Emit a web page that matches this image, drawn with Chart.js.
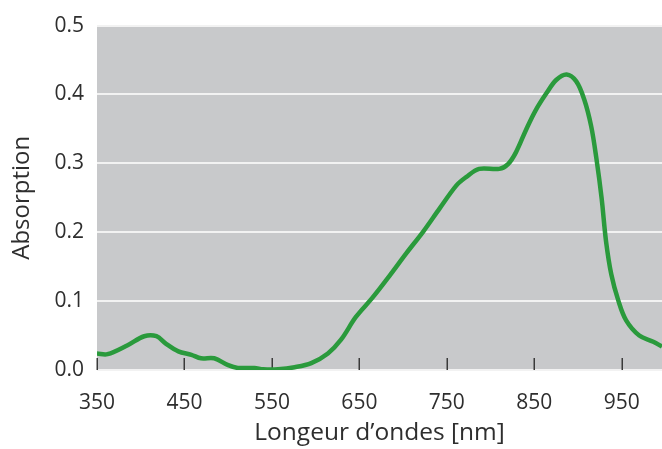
<!DOCTYPE html>
<html>
<head>
<meta charset="utf-8">
<script src="https://cdn.jsdelivr.net/npm/chart.js@4"></script>
<style>
  html, body { margin: 0; padding: 0; background: #ffffff; }
  canvas { display: block; }
</style>
</head>
<body>
<canvas id="chart" width="662" height="449"></canvas>
<script>
// data
let wavelength = [350, 362, 385, 404, 418, 429, 443, 458, 469, 484, 500, 511, 530, 540, 557, 576, 595, 614, 629, 646,
  665, 684, 704, 723, 742, 761, 772, 787, 810, 820, 829, 841, 852, 864, 875, 887, 898, 907, 915, 921,
  927, 932, 938, 946, 955, 970, 986, 996];
let absorption = [0.024, 0.023, 0.036, 0.049, 0.049, 0.038, 0.027, 0.022, 0.017, 0.017, 0.007, 0.003, 0.003, 0.001, 0.001, 0.004, 0.010, 0.024, 0.044, 0.077,
  0.105, 0.136, 0.170, 0.201, 0.235, 0.268, 0.280, 0.292, 0.292, 0.299, 0.316, 0.350, 0.378, 0.402, 0.421, 0.429, 0.419, 0.393, 0.354, 0.307,
  0.249, 0.187, 0.139, 0.101, 0.072, 0.050, 0.041, 0.034];
let xTicks = [350, 450, 550, 650, 750, 850, 950];
let yTicks = [0, 0.1, 0.2, 0.3, 0.4, 0.5];

let textColor = "#2e2e2e";

// gray plot background
let plotBackground = {
  id: "plotBackground",
  beforeDraw: (chart) => {
    let { ctx, chartArea } = chart;
    ctx.save();
    ctx.fillStyle = "#c8c9cb";
    ctx.fillRect(chartArea.left, chartArea.top, chartArea.right - chartArea.left, chartArea.bottom - chartArea.top);
    ctx.restore();
  },
};

// small tick marks pointing up from the x axis
let innerTicks = {
  id: "innerTicks",
  beforeDatasetsDraw: (chart) => {
    let { ctx, chartArea, scales } = chart;
    ctx.save();
    ctx.strokeStyle = "#3a3a3a";
    ctx.lineWidth = 1.5;
    xTicks.forEach((t) => {
      let px = Math.round(scales.x.getPixelForValue(t)) + 0.25;
      ctx.beginPath();
      ctx.moveTo(px, chartArea.bottom);
      ctx.lineTo(px, chartArea.bottom - 12);
      ctx.stroke();
    });
    ctx.restore();
  },
};

new Chart(document.getElementById("chart"), {
  type: "line",
  data: {
    datasets: [
      {
        data: wavelength.map((w, i) => ({ x: w, y: absorption[i] })),
        borderColor: "#2a9a3c",
        borderWidth: 4.5,
        pointRadius: 0,
        tension: 0.35,
        fill: false,
      },
    ],
  },
  options: {
    responsive: false,
    animation: false,
    layout: { padding: { top: 21, right: 0, bottom: 0, left: 0 } },
    plugins: { legend: { display: false }, tooltip: { enabled: false } },
    scales: {
      x: {
        type: "linear",
        min: 350,
        max: 996,
        afterBuildTicks: (scale) => {
          scale.ticks = xTicks.map((v) => ({ value: v }));
        },
        afterFit: (scale) => {
          scale.height = 79;
        },
        grid: { display: false },
        border: { display: false },
        ticks: {
          color: textColor,
          font: { family: "Open Sans", size: 21 },
          padding: 12,
          maxRotation: 0,
          autoSkip: false,
        },
        title: {
          display: true,
          text: "Longeur d’ondes [nm]",
          color: textColor,
          font: { family: "Open Sans", size: 24.5 },
          padding: { top: 0, bottom: 1 },
        },
      },
      y: {
        min: 0,
        max: 0.5,
        afterBuildTicks: (scale) => {
          scale.ticks = yTicks.map((v) => ({ value: v }));
        },
        afterFit: (scale) => {
          scale.width = 97;
        },
        grid: { color: "#f2f2f2", lineWidth: 2, drawTicks: false },
        border: { display: false },
        ticks: {
          color: textColor,
          font: { family: "Open Sans", size: 21 },
          padding: 13,
          callback: (v) => v.toFixed(1),
        },
        title: {
          display: true,
          text: "Absorption",
          color: textColor,
          font: { family: "Open Sans", size: 24 },
          padding: { top: 8, bottom: 0 },
        },
      },
    },
  },
  plugins: [plotBackground, innerTicks],
});
</script>
</body>
</html>
